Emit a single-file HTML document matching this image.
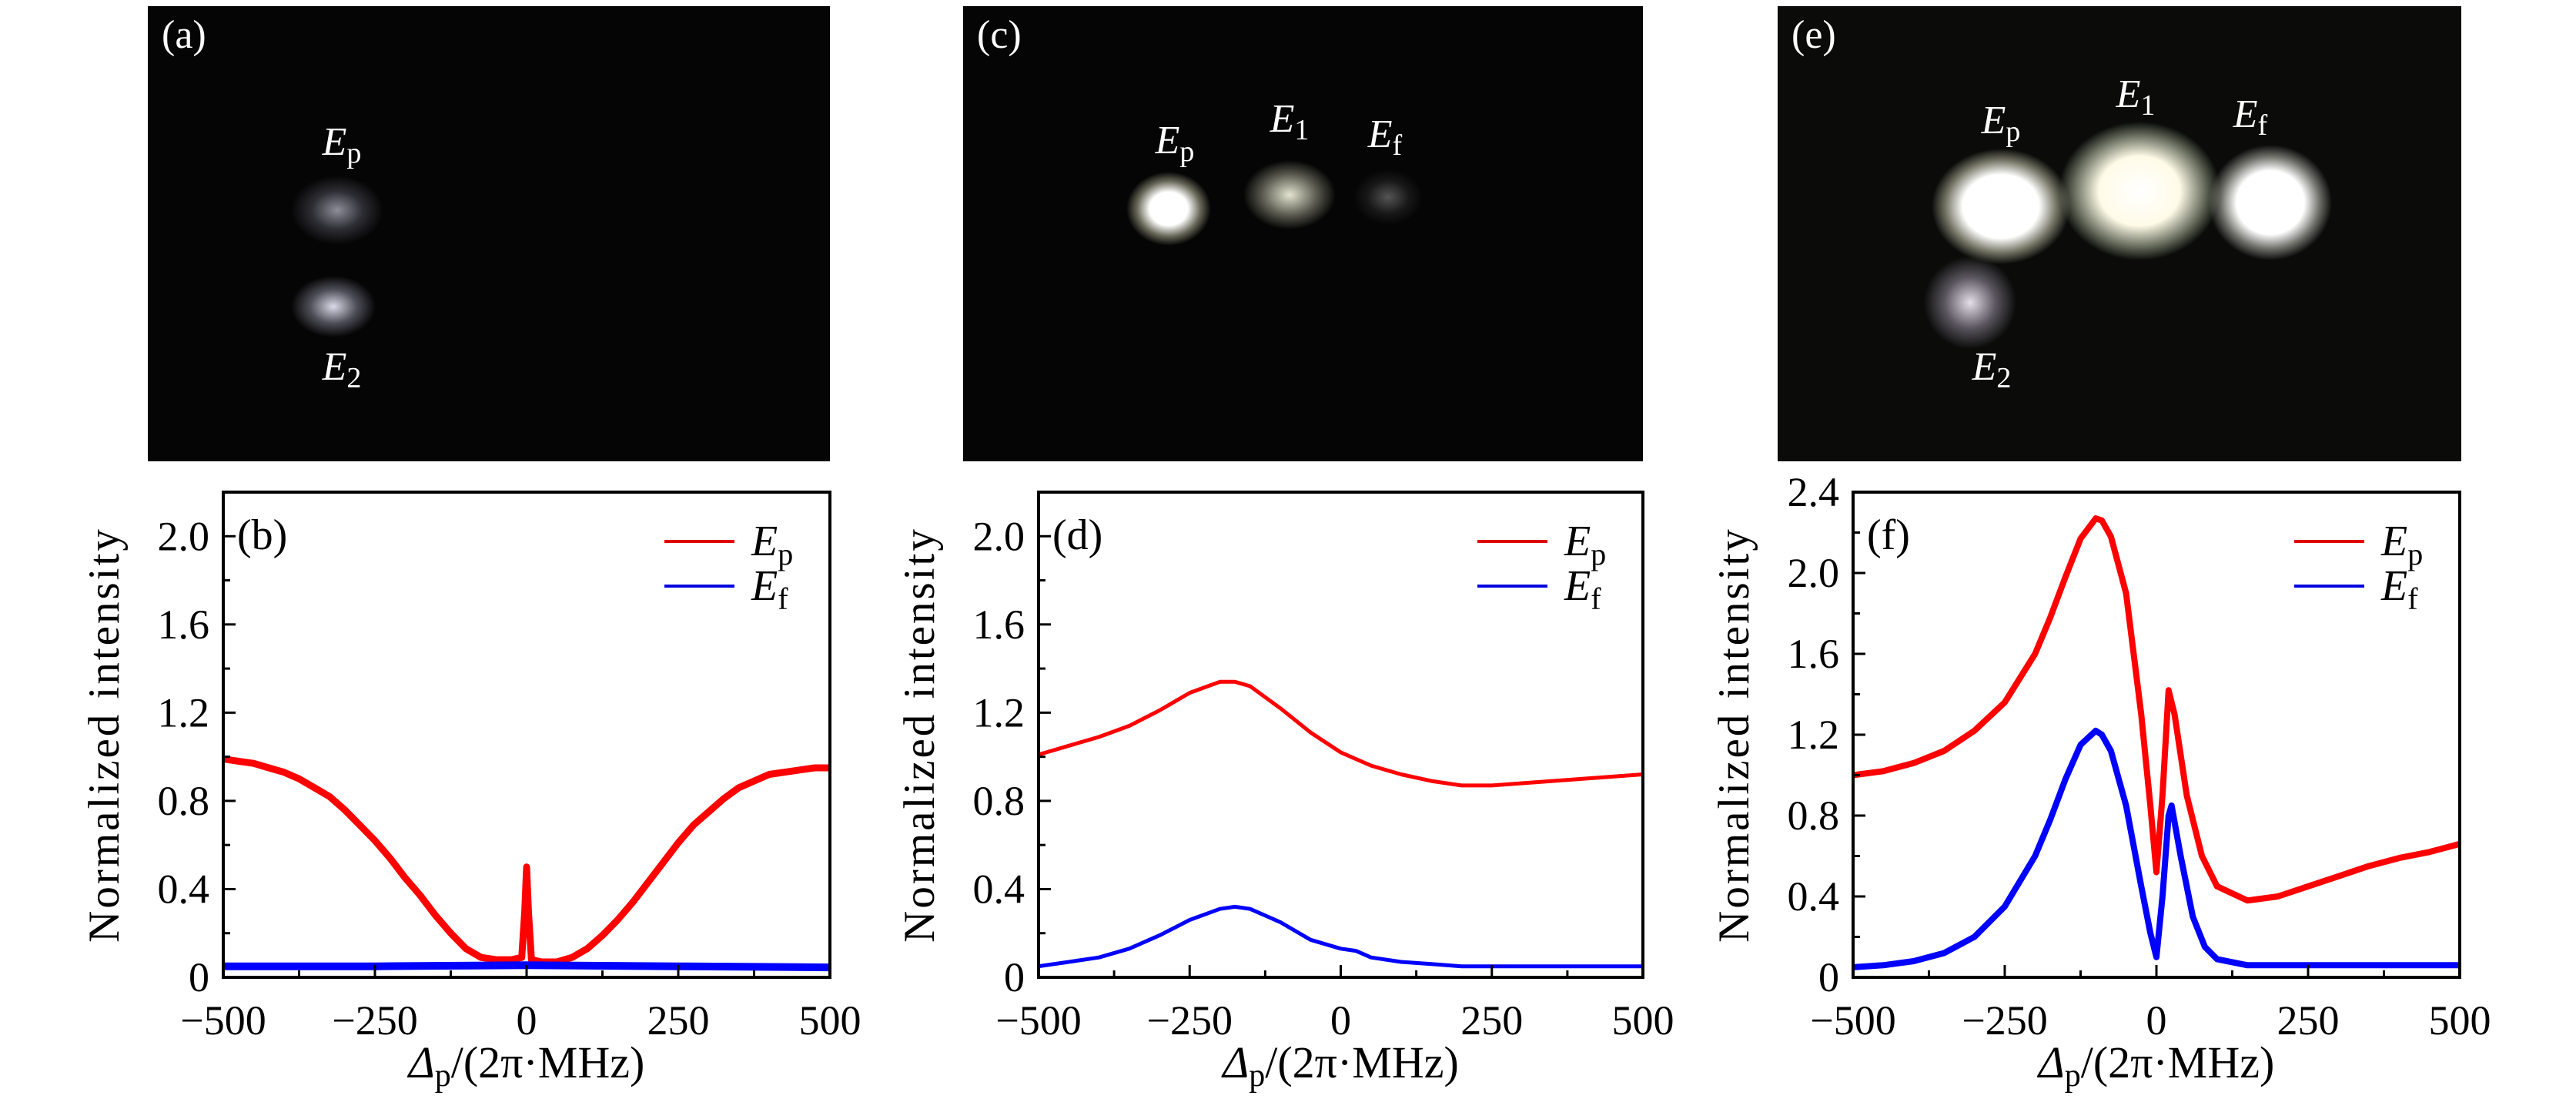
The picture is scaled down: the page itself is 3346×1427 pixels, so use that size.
<!DOCTYPE html>
<html><head><meta charset="utf-8">
<style>
body{margin:0;background:#fff;width:3346px;height:1427px;overflow:hidden;position:relative;font-family:"Liberation Serif",serif;}
.img{position:absolute;background:#050505;overflow:hidden;top:8px;height:591px;}
.blob{position:absolute;border-radius:50%;}
.lbl{position:absolute;color:#fff;font-size:52px;font-style:italic;transform:translate(-50%,-50%);white-space:nowrap;}
.lbl sub{font-style:normal;font-size:38px;vertical-align:-10px;}
.pl{position:absolute;color:#fff;font-size:52px;}
svg{position:absolute;left:0;top:0;}
</style></head><body>
<div class="img" style="left:192px;width:886px;">
 <div class="pl" style="left:18px;top:8px;">(a)</div>
 <div class="blob" style="left:186px;top:220px;width:120px;height:90px;background:radial-gradient(closest-side,rgba(200,200,215,0.7),rgba(120,120,140,0.35) 55%,rgba(0,0,0,0));"></div>
 <div class="blob" style="left:186px;top:350px;width:110px;height:80px;background:radial-gradient(closest-side,rgba(230,230,245,0.95),rgba(150,150,170,0.5) 55%,rgba(0,0,0,0));"></div>
 <div class="lbl" style="left:252px;top:180px;">E<sub>p</sub></div>
 <div class="lbl" style="left:252px;top:472px;">E<sub>2</sub></div>
</div>
<div class="img" style="left:1251px;width:883px;">
 <div class="pl" style="left:18px;top:8px;">(c)</div>
 <div class="blob" style="left:212px;top:215px;width:110px;height:96px;background:radial-gradient(closest-side,#fff,#fff 45%,rgba(200,200,170,0.5) 75%,rgba(0,0,0,0));"></div>
 <div class="blob" style="left:364px;top:200px;width:120px;height:90px;background:radial-gradient(closest-side,rgba(240,240,220,0.95),rgba(170,170,150,0.5) 60%,rgba(0,0,0,0));"></div>
 <div class="blob" style="left:507px;top:212px;width:90px;height:72px;background:radial-gradient(closest-side,rgba(150,150,150,0.55),rgba(80,80,80,0.25) 60%,rgba(0,0,0,0));"></div>
 <div class="lbl" style="left:275px;top:178px;">E<sub>p</sub></div>
 <div class="lbl" style="left:424px;top:150px;">E<sub>1</sub></div>
 <div class="lbl" style="left:548px;top:170px;">E<sub>f</sub></div>
</div>
<div class="img" style="left:2309px;width:888px;background:#0b0c0a;">
 <div class="pl" style="left:18px;top:8px;">(e)</div>
 <div class="blob" style="left:200px;top:185px;width:180px;height:150px;background:radial-gradient(closest-side,#fff,#fff 55%,rgba(220,220,190,0.5) 80%,rgba(0,0,0,0));"></div>
 <div class="blob" style="left:365px;top:150px;width:210px;height:180px;background:radial-gradient(closest-side,#fff,#fffbe8 50%,rgba(200,210,180,0.5) 80%,rgba(0,0,0,0));"></div>
 <div class="blob" style="left:560px;top:180px;width:160px;height:150px;background:radial-gradient(closest-side,#fff,#fff 55%,rgba(210,210,200,0.5) 80%,rgba(0,0,0,0));"></div>
 <div class="blob" style="left:190px;top:325px;width:120px;height:120px;background:radial-gradient(closest-side,rgba(240,235,245,0.95),rgba(170,160,180,0.5) 55%,rgba(0,0,0,0));"></div>
 <div class="lbl" style="left:290px;top:152px;">E<sub>p</sub></div>
 <div class="lbl" style="left:465px;top:118px;">E<sub>1</sub></div>
 <div class="lbl" style="left:614px;top:144px;">E<sub>f</sub></div>
 <div class="lbl" style="left:278px;top:472px;">E<sub>2</sub></div>
</div>
<svg id="chart" width="3346" height="1427"></svg>
<script>
const xTicks=[-500,-250,0,250,500];
const xTickLabels=["\u2212500","\u2212250","0","250","500"];
const yTicksB=[0,0.4,0.8,1.2,1.6,2.0];
const yTickLabelsB=["0","0.4","0.8","1.2","1.6","2.0"];
const yTicksF=[0,0.4,0.8,1.2,1.6,2.0,2.4];
const yTickLabelsF=["0","0.4","0.8","1.2","1.6","2.0","2.4"];
const bRedX=[-500,-475,-450,-425,-400,-375,-350,-325,-300,-275,-250,-225,-200,-175,-150,-125,-100,-75,-50,-25,-8,-3,0,3,8,25,50,75,100,125,150,175,200,225,250,275,300,325,350,375,400,425,450,475,500];
const bRedY=[0.99,0.98,0.97,0.95,0.93,0.90,0.86,0.82,0.76,0.69,0.62,0.54,0.45,0.37,0.28,0.20,0.13,0.09,0.08,0.08,0.09,0.3,0.5,0.3,0.08,0.07,0.07,0.09,0.13,0.19,0.26,0.34,0.43,0.52,0.61,0.69,0.75,0.81,0.86,0.89,0.92,0.93,0.94,0.95,0.95];
const bBlueX=[-500,-250,0,250,500];
const bBlueY=[0.05,0.05,0.055,0.05,0.045];
const dRedX=[-500,-450,-400,-350,-300,-250,-200,-175,-150,-100,-50,0,50,100,150,200,250,300,350,400,450,500];
const dRedY=[1.01,1.05,1.09,1.14,1.21,1.29,1.34,1.34,1.32,1.22,1.11,1.02,0.96,0.92,0.89,0.87,0.87,0.88,0.89,0.90,0.91,0.92];
const dBlueX=[-500,-450,-400,-350,-300,-250,-200,-175,-150,-100,-50,0,25,50,100,150,200,300,400,500];
const dBlueY=[0.05,0.07,0.09,0.13,0.19,0.26,0.31,0.32,0.31,0.25,0.17,0.13,0.12,0.09,0.07,0.06,0.05,0.05,0.05,0.05];
const fRedX=[-500,-450,-400,-350,-300,-250,-200,-175,-150,-125,-100,-90,-75,-50,-25,-10,0,10,20,30,50,75,100,150,200,250,300,350,400,450,500];
const fRedY=[1.0,1.02,1.06,1.12,1.22,1.36,1.6,1.78,1.98,2.17,2.27,2.26,2.18,1.9,1.3,0.85,0.52,0.9,1.42,1.3,0.9,0.6,0.45,0.38,0.40,0.45,0.50,0.55,0.59,0.62,0.66];
const fBlueX=[-500,-450,-400,-350,-300,-250,-200,-175,-150,-125,-100,-90,-75,-50,-25,-10,0,10,20,25,40,60,80,100,150,200,300,500];
const fBlueY=[0.05,0.06,0.08,0.12,0.2,0.35,0.6,0.78,0.98,1.15,1.22,1.2,1.12,0.85,0.45,0.22,0.1,0.4,0.8,0.85,0.6,0.3,0.15,0.09,0.06,0.06,0.06,0.06];

const NS="http://www.w3.org/2000/svg";
const svg=document.getElementById('chart');
function mk(tag,attrs,parent){const e=document.createElementNS(NS,tag);for(const k in attrs)e.setAttribute(k,attrs[k]);(parent||svg).appendChild(e);return e;}

function panel(id,L,R,T,B,ymax,yt,ytl,minorStep,series,label){
  const g=mk('g',{});
  
  
  const sx=v=>L+(v+500)/1000*(R-L);
  const sy=v=>B-v/ymax*(B-T);
  const cp=mk('clipPath',{id:'cp'+id},g);
  mk('rect',{x:L,y:T,width:R-L,height:B-T},cp);
  series.forEach(s=>{
    const d=s.x.map((v,i)=>(i?'L':'M')+sx(v).toFixed(1)+','+sy(s.y[i]).toFixed(1)).join('');
    const p=mk('path',{d:d,fill:'none',stroke:s.c,'stroke-width':s.w,'stroke-linejoin':'round','clip-path':'url(#cp'+id+')'},g);
    
    
  });
  const fr=mk('rect',{x:L,y:T,width:R-L,height:B-T,fill:'none',stroke:'#000','stroke-width':4},g);
  
  
  for(let v=-500;v<=500;v+=125){const maj=v%250===0;mk('line',{x1:sx(v),x2:sx(v),y1:B,y2:B-(maj?16:9),stroke:'#000','stroke-width':3},g);}
  xTicks.forEach((v,i)=>{const t=mk('text',{x:sx(v),y:B+74,'text-anchor':'middle','font-size':54,'font-family':'Liberation Serif, serif'},g);t.textContent=xTickLabels[i];
    
    });
  for(let v=0;v<=ymax+1e-6;v+=minorStep){const maj=Math.abs(v/0.4-Math.round(v/0.4))<1e-6;mk('line',{x1:L,x2:L+(maj?16:9),y1:sy(v),y2:sy(v),stroke:'#000','stroke-width':3},g);}
  yt.forEach((v,i)=>{const t=mk('text',{x:L-18,y:sy(v)+18,'text-anchor':'end','font-size':54,'font-family':'Liberation Serif, serif'},g);t.textContent=ytl[i];
    
    });
  const yl=mk('text',{x:0,y:0,transform:'translate('+(L-136)+','+((T+B)/2)+') rotate(-90)','text-anchor':'middle','font-size':57,'font-family':'Liberation Serif, serif','letter-spacing':'3'},g);
  yl.textContent='Normalized intensity';
  
  
  const xl=mk('text',{x:(L+R)/2,y:B+130,'text-anchor':'middle','font-size':58,'font-family':'Liberation Serif, serif'},g);
  xl.innerHTML='<tspan font-style="italic">Δ</tspan><tspan font-size="42" dy="11">p</tspan><tspan dy="-11">/(2π·MHz)</tspan>';
  
  
  const pl=mk('text',{x:L+18,y:T+74,'font-size':56,'font-family':'Liberation Serif, serif'},g);
  pl.textContent=label;
  
  
  [['#e00000','p',T+64],['#0000e0','f',T+122]].forEach(e=>{
    const lg=mk('g',{},g);
    
    
    mk('line',{x1:R-215,x2:R-124,y1:e[2],y2:e[2],stroke:e[0],'stroke-width':4},lg);
    const t=mk('text',{x:R-102,y:e[2]+18,'font-size':56,'font-family':'Liberation Serif, serif'},lg);
    t.innerHTML='<tspan font-style="italic">E</tspan><tspan font-size="40" dy="12">'+e[1]+'</tspan>';
  });
}
panel('b',290,1078,639,1269,2.2,yTicksB,yTickLabelsB,0.2,[
 {x:bRedX,y:bRedY,c:'#ff0000',w:9,n:'series-ep'},{x:bBlueX,y:bBlueY,c:'#0000ff',w:10,n:'series-ef'}],'(b)');
panel('d',1349,2134,639,1269,2.2,yTicksB,yTickLabelsB,0.2,[
 {x:dRedX,y:dRedY,c:'#ff0000',w:5,n:'series-ep'},{x:dBlueX,y:dBlueY,c:'#0000ff',w:5,n:'series-ef'}],'(d)');
panel('f',2407,3195,639,1269,2.4,yTicksF,yTickLabelsF,0.2,[
 {x:fRedX,y:fRedY,c:'#ff0000',w:8,n:'series-ep'},{x:fBlueX,y:fBlueY,c:'#0000ff',w:8,n:'series-ef'}],'(f)');
</script>
</body></html>
